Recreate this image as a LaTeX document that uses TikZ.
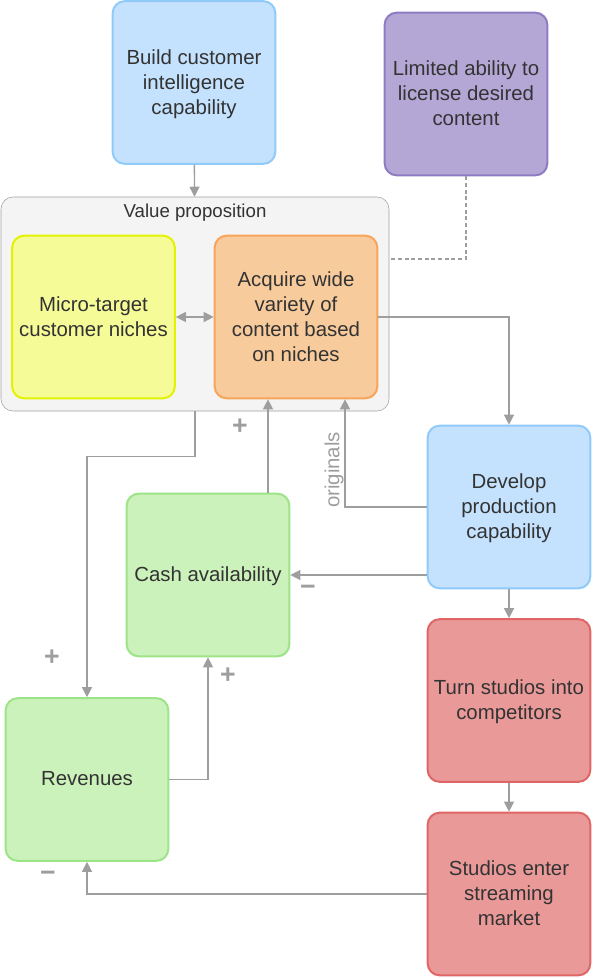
\documentclass[tikz,border=0pt]{standalone}
\usepackage{fontspec}
\setmainfont{Liberation Sans}
\usepackage{tikz}
\usetikzlibrary{arrows.meta}
\usetikzlibrary{calc}
\usetikzlibrary{positioning}

\definecolor{txtgray}{HTML}{333333}
\definecolor{linegray}{HTML}{9E9E9E}
\definecolor{bluefill}{HTML}{C4E2FE}
\definecolor{blueline}{HTML}{90CAF9}
\definecolor{purplefill}{HTML}{B4A7D6}
\definecolor{purpleline}{HTML}{8E7CC3}
\definecolor{yellowfill}{HTML}{F4FB97}
\definecolor{yellowline}{HTML}{E3F200}
\definecolor{orangefill}{HTML}{F8CB9C}
\definecolor{orangeline}{HTML}{F6A55A}
\definecolor{greenfill}{HTML}{CCF2BC}
\definecolor{greenline}{HTML}{9DE388}
\definecolor{redfill}{HTML}{EA9999}
\definecolor{redline}{HTML}{E06666}
\definecolor{groupfill}{HTML}{F4F4F4}
\definecolor{groupline}{HTML}{A0A0A0}

\begin{document}
\begin{tikzpicture}[x=0.75pt, y=-0.75pt,
    box/.style={rounded corners=9pt, line width=1.5pt, minimum width=122pt, minimum height=122pt,
      align=center, text=txtgray, font=\fontsize{15.3}{18.75}\selectfont, inner sep=1pt, text depth=1pt},
    arr/.style={draw=linegray, line width=1pt, -{Triangle[length=7.5pt, width=7.5pt]}},
    sign/.style={text=linegray, font=\fontsize{20}{20}\selectfont\bfseries}]
    \useasboundingbox (0, 0) rectangle (605, 978);

    \node [rounded corners=9pt, draw=groupline, fill=groupfill, minimum width=291pt, minimum height=160.5pt] (valprop) at (195, 304) {};
    \node [text=txtgray, font=\fontsize{14}{16}\selectfont] (valtitle) at (195, 213) {Value proposition};

    \node [box, fill=bluefill, draw=blueline] (build) at (194, 82.5) {Build customer\\intelligence\\capability};
    \node [box, fill=purplefill, draw=purpleline] (limited) at (466, 94) {Limited ability to\\license desired\\content};
    \node [box, fill=yellowfill, draw=yellowline] (micro) at (93.5, 317) {Micro-target\\customer niches};
    \node [box, fill=orangefill, draw=orangeline] (acquire) at (296, 317) {Acquire wide\\variety of\\content based\\on niches};
    \node [box, fill=bluefill, draw=blueline] (develop) at (509, 507) {Develop\\production\\capability};
    \node [box, fill=greenfill, draw=greenline] (cash) at (208, 575) {Cash availability};
    \node [box, fill=redfill, draw=redline] (turn) at (509, 700.5) {Turn studios into\\competitors};
    \node [box, fill=greenfill, draw=greenline] (revenues) at (87, 779.5) {Revenues};
    \node [box, fill=redfill, draw=redline] (studios) at (509, 894) {Studios enter\\streaming\\market};

    \coordinate (limend) at (389, 259);

    \draw [arr] (build) -- (valprop);
    \draw [draw=linegray, line width=0.8pt, dash pattern=on 3pt off 2pt] (limited) |- (limend);
    \draw [arr, {Triangle[length=7.5pt, width=7.5pt]}-{Triangle[length=7.5pt, width=7.5pt]}] (micro) -- (acquire);
    \draw [arr] (acquire.east) -| (develop.north);
    \draw [arr] (develop.west) -| ($(acquire.south) + (49, 0)$);
    \draw [arr] ([xshift=45pt]cash.north) -- ([xshift=45pt]cash.north |- acquire.south);
    \draw [arr] ([yshift=-51pt]develop.west) -- ([yshift=-51pt]develop.west -| cash.east);
    \draw [arr] (valprop.south) -- ++(0, 45) -| (revenues.north);
    \draw [arr] (revenues.east) -| (cash.south);
    \draw [arr] (develop) -- (turn);
    \draw [arr] (turn) -- (studios);
    \draw [arr] (studios.west) -| (revenues.south);

    \node [rotate=90, text=linegray, font=\fontsize{15.3}{18}\selectfont] (originals) at (334, 470) {originals};
    \node [sign] (plusa) at (240, 427) {+};
    \node [sign] (minusa) at (308, 590) {−};
    \node [sign] (plusb) at (52, 658) {+};
    \node [sign] (plusc) at (228, 676) {+};
    \node [sign] (minusb) at (48, 876) {−};
\end{tikzpicture}
\end{document}
